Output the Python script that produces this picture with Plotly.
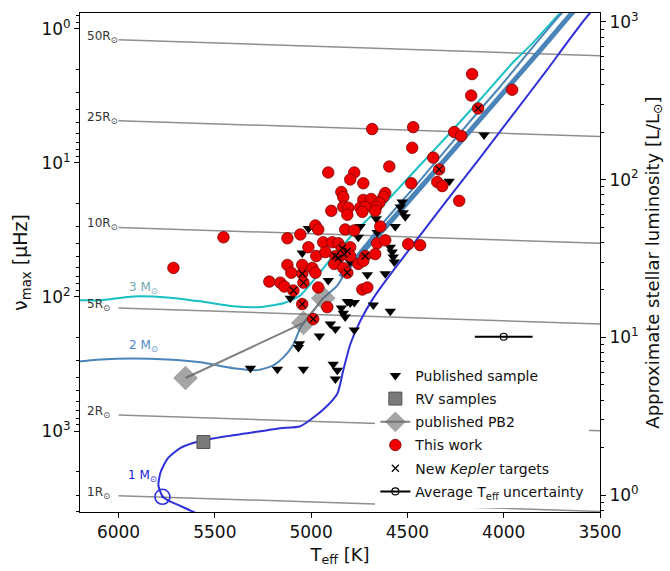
import math
import plotly.graph_objects as go

# ---------------- data ----------------
# Published seismic sample (Teff [K], numax [muHz])
pub_teff = [4102, 4283, 4527, 4537, 4522, 4511, 4662, 4563, 4745, 5014,
            4657, 4755, 5046, 4589, 4579, 4574, 4568, 4797, 4708, 4615,
            4911, 5108, 4812, 4797, 4776, 4677, 4589, 4843, 4833, 4823,
            4900, 4874, 4957, 4776, 5061, 5066, 5175, 5040, 4885, 4864,
            4874, 5315]
pub_numax = [6.2, 13.7, 19.6, 21.3, 23.6, 25.2, 26.1, 29.8, 29.8, 30.9,
             33.0, 35.9, 47.1, 42.6, 46.3, 50.4, 54.8, 54.8, 68.3, 67.1,
             75.5, 102, 108, 111, 110, 115, 128, 121, 132, 141,
             159, 173, 195, 176, 223, 238, 346, 346, 318, 352,
             409, 340]

# RV samples
rv_teff = [5559]
rv_numax = [1206]

# Published PB2 sequence
pb2_teff = [5652, 5040, 4937]
pb2_numax = [402, 156, 102]

# This work
tw_teff = [4683, 4470, 4475, 4257, 4221, 4366, 4335, 4594, 4911, 4776,
           4797, 4729, 4480, 4345, 4319, 4231, 4843, 4833, 4615, 4625,
           4729, 4688, 4646, 4662, 4895, 4833, 4807, 4812, 4745, 4719,
           4734, 4667, 4978, 4963, 4823, 4776, 4641, 5123, 5056, 5014,
           4937, 4890, 4859, 4838, 4812, 4797, 4657, 4615, 4496, 4434,
           4973, 4926, 4874, 4859, 4828, 4797, 4880, 4719, 4667, 4755,
           4729, 5123, 5046, 4994, 4978, 5103, 5046, 4833, 4812, 5217,
           5160, 5139, 5040, 5092, 4963, 4734, 4708, 5046, 4916, 4989,
           4164, 4169, 4133, 3956, 5715, 5455]
tw_numax = [5.60, 5.42, 7.72, 5.89, 6.31, 9.14, 11.2, 10.65, 11.8, 11.8,
            13.3, 14.2, 14.2, 13.9, 14.9, 19.2, 16.5, 18.0, 16.8, 18.0,
            18.9, 18.6, 19.9, 21.3, 22.8, 21.3, 21.6, 24.4, 21.6, 21.3,
            23.2, 22.8, 29.3, 31.4, 31.4, 31.9, 29.8, 36.5, 34.2, 42.6,
            39.1, 39.1, 39.8, 43.3, 45.5, 42.6, 39.8, 37.8, 40.4, 41.1,
            49.5, 46.3, 49.5, 51.2, 47.9, 49.5, 56.7, 49.5, 47.9, 56.7,
            53.9, 57.7, 57.7, 60.7, 66.0, 66.0, 67.1, 60.7, 66.0, 76.8,
            78.2, 83.6, 78.2, 89.5, 85.0, 88.0, 85.0, 113, 119, 146,
            2.18, 3.15, 3.93, 2.85, 60.7, 35.9]
# entries of this work that are new Kepler targets
new_kepler_idx = [6, 43, 44, 52, 53, 54, 57, 66, 68, 72, 73, 77, 79, 82]

# Average Teff uncertainty
unc_teff = [4000]
unc_numax = [198]
unc_err = [150]

# Sun
sun_teff = [5772]
sun_numax = [3090]

# Evolutionary tracks
trk1_teff = [5549, 5611, 5678, 5746, 5772, 5793, 5782, 5746, 5678, 5575,
             5435, 5263, 5160, 5056, 4937, 4864, 4833, 4797, 4745, 4677,
             4605, 4434, 4293, 4122, 3951, 3775, 3671, 3552, 3500]
trk1_numax = [4355, 4003, 3617, 3268, 3055, 2537, 2037, 1608, 1335, 1186,
              1090, 1002, 952, 920, 691, 527, 352, 226, 151, 102,
              73.0, 34.7, 18.9, 9.14, 4.35, 2.03, 1.27, 0.763, 0.66]

trk2_teff = [6300, 6197, 6093, 5922, 5746, 5575, 5404, 5279, 5196, 5144,
             5092, 5056, 5004, 4937, 4864, 4797, 4708, 4625, 4434, 4174,
             4019, 3863, 3707, 3650]
trk2_numax = [302, 302, 292, 287, 292, 307, 340, 351, 323, 282,
              226, 170, 136.5, 102, 82.2, 56.7, 39.1, 27.9, 13.5, 4.89,
              2.71, 1.45, 0.789, 0.65]

trk2b_teff = [4848, 4745, 4625, 4434, 4122, 3811, 3645, 3600]
trk2b_numax = [70.6, 47.9, 31.4, 15.4, 4.73, 1.45, 0.763, 0.65]

trk3_teff = [6300, 6197, 6093, 5922, 5746, 5575, 5404, 5279, 5196, 5144,
             5056, 4968, 4885, 4797, 4708, 4625, 4470, 4293, 4122, 3951,
             3847, 3707, 3680]
trk3_numax = [105.9, 105.9, 105.9, 99.0, 100.7, 107.7, 117.2, 119.2, 115.2, 111.4,
              97.3, 69.4, 49.5, 35.9, 26.5, 20.6, 11.8, 6.31, 3.37, 1.78,
              1.27, 0.763, 0.70]

# Lines of constant radius
radius_labels = ["50R", "25R", "10R", "5R", "2R", "1R"]
radius_teff = [6000, 3500]
radius_numax_hot = [1.21, 4.85, 30.3, 121, 758, 3030]
radius_numax_cool = [1.59, 6.35, 39.7, 159, 992, 3970]

# Mass labels
mass_text = ["3 M<sub>⊙</sub>", "2 M<sub>⊙</sub>", "1 M<sub>⊙</sub>"]
mass_teff = [5870, 5870, 5875]
mass_numax = [85, 230, 2143]
mass_color = ["#6fa9ad", "#4f88c4", "#2020dd"]

# Axis ticks
x_ticks = [6000, 5500, 5000, 4500, 4000, 3500]
y_ticks = [1, 10, 100, 1000]
y_ticktext = ["10<sup>0</sup>", "10<sup>1</sup>", "10<sup>2</sup>", "10<sup>3</sup>"]
l_ticks = [1, 10, 100, 1000]
l_ticktext = ["10<sup>0</sup>", "10<sup>1</sup>", "10<sup>2</sup>", "10<sup>3</sup>"]

FONT = "DejaVu Sans"
minor_vals = [m * 10 ** e for e in range(-1, 4) for m in range(2, 10)]
NOLEG = dict(showlegend=False, hoverinfo="skip")

fig = go.Figure()

# constant-radius lines with their labels
for lab, a, b in zip(radius_labels, radius_numax_hot, radius_numax_cool):
    fig.add_trace(go.Scatter(x=radius_teff, y=[a, b], mode="lines",
                             line=dict(color="#8f8f8f", width=1.5), **NOLEG))
    fig.add_annotation(x=6175, y=math.log10(a), text=lab + "<sub>⊙</sub>",
                       showarrow=False, xanchor="left", yanchor="middle", yshift=3,
                       font=dict(size=12, color="#333333", family=FONT))

# evolutionary tracks
track_line = dict(shape="spline", smoothing=0.6)
fig.add_trace(go.Scatter(x=trk3_teff, y=trk3_numax, mode="lines",
                         line=dict(color="#19bfc4", width=2, **track_line), **NOLEG))
fig.add_trace(go.Scatter(x=trk2b_teff, y=trk2b_numax, mode="lines",
                         line=dict(color="#4a84b8", width=5, **track_line), **NOLEG))
fig.add_trace(go.Scatter(x=trk2_teff, y=trk2_numax, mode="lines",
                         line=dict(color="#4a84b8", width=2, **track_line), **NOLEG))
fig.add_trace(go.Scatter(x=trk1_teff, y=trk1_numax, mode="lines",
                         line=dict(color="#3030d8", width=2, **track_line), **NOLEG))

for t, xx, yy, c in zip(mass_text, mass_teff, mass_numax, mass_color):
    fig.add_annotation(x=xx, y=math.log10(yy), text=t, showarrow=False,
                       font=dict(size=12, color=c, family=FONT))

# Sun
fig.add_trace(go.Scatter(x=sun_teff, y=sun_numax, mode="markers",
                         marker=dict(symbol="circle-open-dot", size=15, color="#2a2ae0",
                                     line=dict(width=1.5)), **NOLEG))

# samples (one legend group each so the group gap spaces the rows)
fig.add_trace(go.Scatter(x=pub_teff, y=pub_numax, mode="markers", name="Published sample",
                         legendgroup="a",
                         marker=dict(symbol="triangle-down", size=10, color="black")))
fig.add_trace(go.Scatter(x=rv_teff, y=rv_numax, mode="markers", name="RV samples",
                         legendgroup="b",
                         marker=dict(symbol="square", size=13, color="#7a7a7a",
                                     line=dict(color="#555555", width=1))))
fig.add_trace(go.Scatter(x=pb2_teff, y=pb2_numax, mode="lines+markers", name="published PB2",
                         legendgroup="c",
                         line=dict(color="#808080", width=2),
                         marker=dict(symbol="diamond", size=19, color="rgba(105,105,105,0.6)",
                                     line=dict(width=0))))
fig.add_trace(go.Scatter(x=tw_teff, y=tw_numax, mode="markers", name="This work",
                         legendgroup="d",
                         marker=dict(symbol="circle", size=11.5, color="#ee0000",
                                     line=dict(color="#7a0000", width=0.8))))
fig.add_trace(go.Scatter(x=[tw_teff[i] for i in new_kepler_idx],
                         y=[tw_numax[i] for i in new_kepler_idx],
                         mode="markers", name="New <i>Kepler</i> targets", legendgroup="e",
                         marker=dict(symbol="x-thin", size=7, color="black",
                                     line=dict(color="black", width=1.2))))
fig.add_trace(go.Scatter(x=unc_teff, y=unc_numax, mode="lines+markers",
                         name="Average T<sub>eff</sub> uncertainty", legendgroup="f",
                         line=dict(color="black", width=2),
                         marker=dict(symbol="circle-open", size=7, color="black",
                                     line=dict(width=1.2)),
                         error_x=dict(type="data", array=unc_err, color="black",
                                      thickness=2, width=0)))

# right-hand luminosity axis anchor
fig.add_trace(go.Scatter(x=[4000], y=[10], yaxis="y2", mode="markers",
                         marker=dict(opacity=0), **NOLEG))

axis_common = dict(showline=True, linecolor="black", linewidth=1,
                   ticks="outside", tickcolor="black", ticklen=5,
                   showgrid=False, zeroline=False,
                   tickfont=dict(size=17, family=FONT, color="#111111"))

fig.update_layout(
    width=670, height=571,
    margin=dict(l=80, r=70, t=10, b=54),
    paper_bgcolor="white", plot_bgcolor="white",
    font=dict(family=FONT, color="#111111"),
    xaxis=dict(range=[6200, 3500], tickvals=x_ticks, mirror=True,
               title=dict(text="T<sub>eff</sub> [K]", font=dict(size=18, family=FONT), standoff=6),
               **axis_common),
    yaxis=dict(type="log", range=[3.603, -0.117], tickvals=y_ticks, ticktext=y_ticktext,
               minor=dict(tickvals=minor_vals, ticks="outside", ticklen=3, tickcolor="black"),
               title=dict(text="ν<sub>max</sub> [μHz]", font=dict(size=19, family=FONT), standoff=8),
               **axis_common),
    yaxis2=dict(type="log", range=[-0.106, 3.056], overlaying="y", side="right",
                tickvals=l_ticks, ticktext=l_ticktext,
                minor=dict(tickvals=minor_vals, ticks="outside", ticklen=3, tickcolor="black"),
                title=dict(text="Approximate stellar luminosity [L/L<sub>⊙</sub>]",
                           font=dict(size=18, family=FONT), standoff=8),
                **axis_common),
    legend=dict(x=0.568, y=0.305, xanchor="left", yanchor="top",
                bgcolor="white", borderwidth=0,
                font=dict(size=14, family=FONT, color="#111111"),
                itemwidth=30, traceorder="grouped", tracegroupgap=2),
    showlegend=True,
)

fig.write_html("out.html")
